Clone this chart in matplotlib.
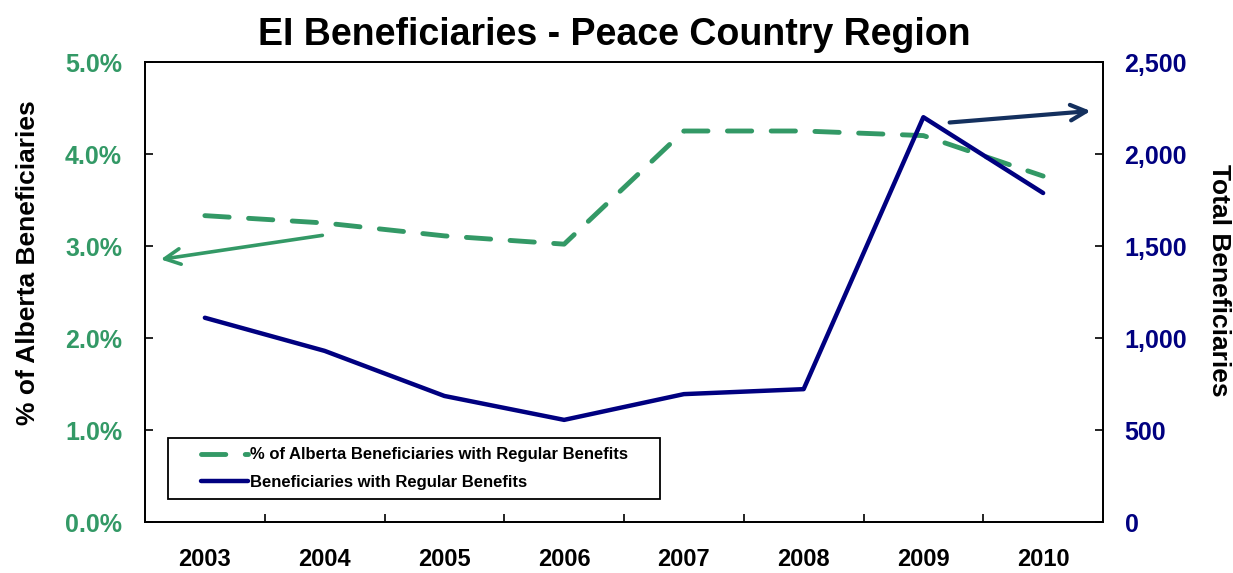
import matplotlib
matplotlib.use("Agg")
import matplotlib.pyplot as plt
import numpy as np
from matplotlib.ticker import FixedLocator, FuncFormatter
from matplotlib.legend_handler import HandlerLine2D

plt.rcParams['font.family'] = ['Liberation Sans', 'DejaVu Sans']

years = ['2003', '2004', '2005', '2006', '2007', '2008', '2009', '2010']
pct_alberta = [3.33, 3.25, 3.11, 3.02, 4.25, 4.25, 4.20, 3.76]
beneficiaries = [1110, 930, 685, 555, 695, 722, 2200, 1788]
left_ticks = [0.0, 1.0, 2.0, 3.0, 4.0, 5.0]
right_ticks = [0, 500, 1000, 1500, 2000, 2500]

GREEN = '#339966'
NAVY = '#000080'
ARROW_NAVY = '#14305E'


class ShiftedLineHandler(HandlerLine2D):
    def get_xdata(self, legend, xdescent, ydescent, width, height, fontsize):
        xd, xm = super().get_xdata(legend, xdescent, ydescent, width, height, fontsize)
        start = -xdescent + width * 0.33
        return np.array([start, width - xdescent - 2]), xm


fig = plt.figure(figsize=(12.33, 5.73), dpi=100)
ax = fig.add_axes([145/1233, 51/573, 958/1233, 460/573])
ax2 = ax.twinx()

x = np.arange(len(years))
l1, = ax.plot(x, pct_alberta, color=GREEN, lw=3.5, dashes=(5, 4),
              dash_capstyle='round', label='% of Alberta Beneficiaries with Regular Benefits', zorder=3)
l2, = ax2.plot(x, beneficiaries, color=NAVY, lw=3.2, solid_capstyle='round',
               label='Beneficiaries with Regular Benefits', zorder=3)

ax.set_xlim(-0.5, len(years) - 0.5)
ax.set_ylim(0, 5)
ax2.set_ylim(0, 2500)

ax.xaxis.set_major_locator(FixedLocator(np.arange(0.5, len(years) - 0.5, 1)))
ax.xaxis.set_minor_locator(FixedLocator(x))
ax.set_xticklabels([], minor=False)
ax.set_xticklabels(years, minor=True, fontsize=17, fontweight='bold')
ax.tick_params(axis='x', which='major', direction='in', length=6, width=1.2)
ax.tick_params(axis='x', which='minor', length=0, pad=19)

ax.set_yticks(left_ticks)
ax.yaxis.set_major_formatter(FuncFormatter(lambda v, p: f'{v:.1f}%'))
ax.tick_params(axis='y', direction='in', length=6, width=1.2, pad=16.5,
               labelcolor=GREEN, labelsize=18)
for t in ax.get_yticklabels():
    t.set_fontweight('bold')

ax2.set_yticks(right_ticks)
ax2.yaxis.set_major_formatter(FuncFormatter(lambda v, p: f'{int(v):,}'))
ax2.tick_params(axis='y', direction='in', length=6, width=1.2, pad=15.5,
                labelcolor=NAVY, labelsize=18)
for t in ax2.get_yticklabels():
    t.set_fontweight('bold')

for a in (ax, ax2):
    for s in a.spines.values():
        s.set_linewidth(1.3)
        s.set_color('black')

ax.set_ylabel('% of Alberta Beneficiaries', fontsize=19, fontweight='bold', va='center')
ax.yaxis.set_label_coords(-0.1225, 0.563)
ax2.set_ylabel('Total Beneficiaries', fontsize=19, fontweight='bold', rotation=270, va='center')
ax2.yaxis.set_label_coords(1.121, 0.526)

fig.suptitle('EI Beneficiaries - Peace Country Region', fontsize=27, fontweight='bold',
             x=0.498, y=1 - 45/573, va='baseline')

# arrows pointing to the axes
ax.annotate('', xy=(0.0135, 0.570), xytext=(0.188, 0.624), xycoords='axes fraction',
            arrowprops=dict(arrowstyle='->', color=GREEN, lw=2.6, mutation_scale=28), zorder=4)
ax.annotate('', xy=(0.990, 0.894), xytext=(0.837, 0.868), xycoords='axes fraction',
            arrowprops=dict(arrowstyle='->', color=ARROW_NAVY, lw=3.0, mutation_scale=28), zorder=4)

leg = ax2.legend(handles=[l1, l2], loc='lower left', bbox_to_anchor=(0.024, 0.05, 0.514, 0.13),
                 mode='expand', borderaxespad=0, frameon=True, fancybox=False, framealpha=1,
                 prop={'weight': 'bold', 'size': 12}, handlelength=4.4, handletextpad=0.0,
                 labelspacing=0.75, borderpad=0.55,
                 handler_map={l1: ShiftedLineHandler(), l2: ShiftedLineHandler()})
leg.get_frame().set_edgecolor('black')
leg.get_frame().set_linewidth(1.3)

fig.savefig('out.png', dpi=100)
